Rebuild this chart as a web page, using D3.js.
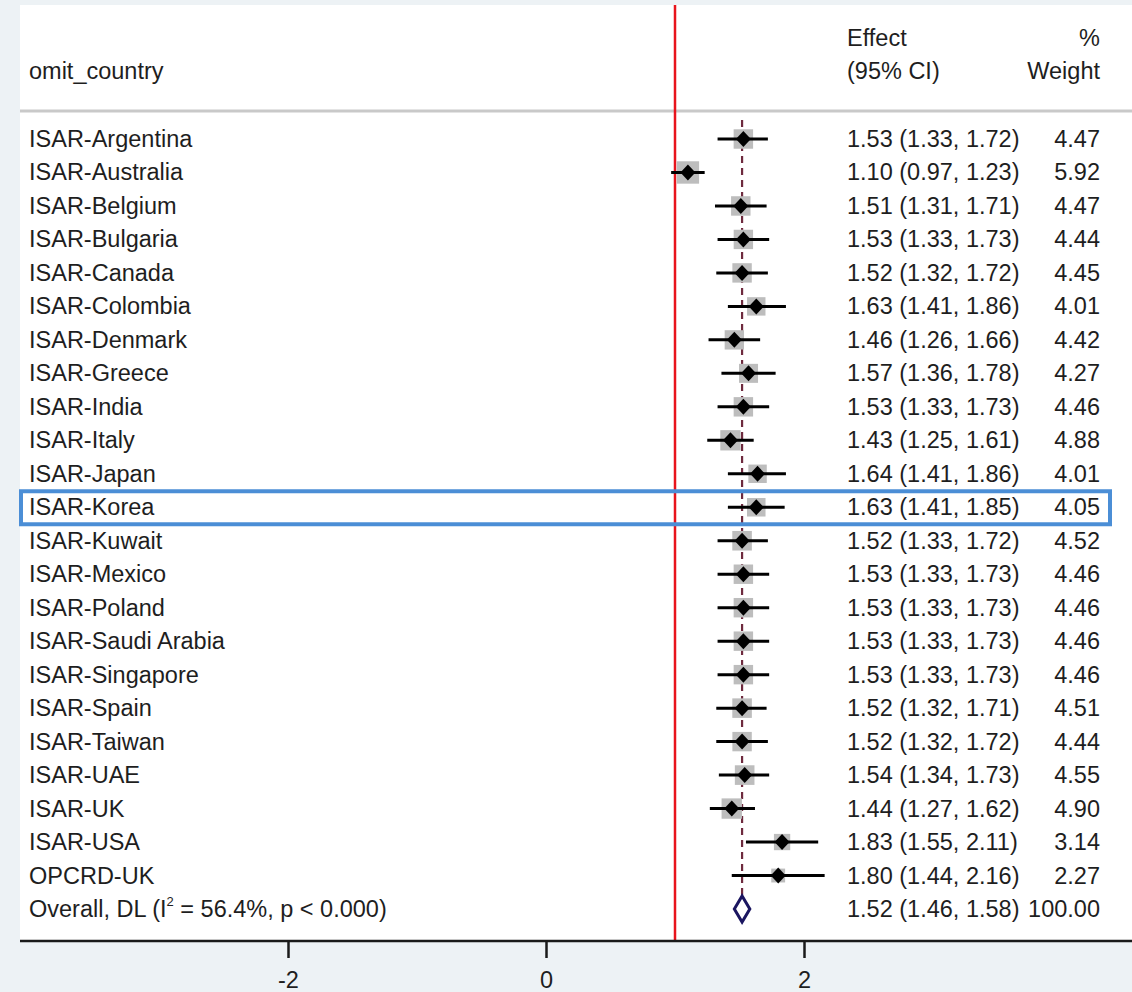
<!DOCTYPE html>
<html>
<head>
<meta charset="utf-8">
<script src="https://cdn.jsdelivr.net/npm/d3@7"></script>
<style>
  html, body { margin: 0; padding: 0; background: #edf2f5; }
  svg { display: block; }
  text { font-family: "Liberation Sans", Arial, sans-serif; fill: #1e1e1e; }
</style>
</head>
<body>
<svg id="chart" width="1132" height="992"></svg>
<script>
// Leave-one-out meta-analysis: pooled effect after omitting each country
const countries = [
  "ISAR-Argentina", "ISAR-Australia", "ISAR-Belgium", "ISAR-Bulgaria", "ISAR-Canada",
  "ISAR-Colombia", "ISAR-Denmark", "ISAR-Greece", "ISAR-India", "ISAR-Italy",
  "ISAR-Japan", "ISAR-Korea", "ISAR-Kuwait", "ISAR-Mexico", "ISAR-Poland",
  "ISAR-Saudi Arabia", "ISAR-Singapore", "ISAR-Spain", "ISAR-Taiwan", "ISAR-UAE",
  "ISAR-UK", "ISAR-USA", "OPCRD-UK"
];
const effects = [1.53, 1.10, 1.51, 1.53, 1.52, 1.63, 1.46, 1.57, 1.53, 1.43, 1.64, 1.63,
                 1.52, 1.53, 1.53, 1.53, 1.53, 1.52, 1.52, 1.54, 1.44, 1.83, 1.80];
const lowerCI = [1.33, 0.97, 1.31, 1.33, 1.32, 1.41, 1.26, 1.36, 1.33, 1.25, 1.41, 1.41,
                 1.33, 1.33, 1.33, 1.33, 1.33, 1.32, 1.32, 1.34, 1.27, 1.55, 1.44];
const upperCI = [1.72, 1.23, 1.71, 1.73, 1.72, 1.86, 1.66, 1.78, 1.73, 1.61, 1.86, 1.85,
                 1.72, 1.73, 1.73, 1.73, 1.73, 1.71, 1.72, 1.73, 1.62, 2.11, 2.16];
const weights = [4.47, 5.92, 4.47, 4.44, 4.45, 4.01, 4.42, 4.27, 4.46, 4.88, 4.01, 4.05,
                 4.52, 4.46, 4.46, 4.46, 4.46, 4.51, 4.44, 4.55, 4.90, 3.14, 2.27];
const overallEffect = 1.52, overallLower = 1.46, overallUpper = 1.58, overallWeight = 100.00;
const nullValue = 1;
const xTicks = [-2, 0, 2];
const highlighted = "ISAR-Korea";

const panel = { left: 20, top: 5, right: 1132, bottom: 941 };
const svg = d3.select("#chart");
const fmt = d3.format(".2f");
const FS = 23.5;

const x = d3.scaleLinear().domain([-2, 2]).range([288, 804]);
const y = d3.scaleLinear().domain([0, countries.length]).range([139, 909]);

// white plot panel
svg.append("rect")
  .attr("x", panel.left).attr("y", panel.top)
  .attr("width", panel.right - panel.left).attr("height", panel.bottom - panel.top)
  .attr("fill", "#ffffff");

// header
const colLabel = 29, colEffect = 847, colWeight = 1100;
svg.append("text").attr("x", colLabel).attr("y", 79).attr("font-size", FS).text("omit_country");
svg.append("text").attr("x", colEffect).attr("y", 46).attr("font-size", FS).text("Effect");
svg.append("text").attr("x", colEffect).attr("y", 79).attr("font-size", FS).text("(95% CI)");
svg.append("text").attr("x", colWeight).attr("y", 46).attr("font-size", FS).attr("text-anchor", "end").text("%");
svg.append("text").attr("x", colWeight).attr("y", 79).attr("font-size", FS).attr("text-anchor", "end").text("Weight");

// header separator
svg.append("line")
  .attr("x1", panel.left).attr("x2", panel.right).attr("y1", 111).attr("y2", 111)
  .attr("stroke", "#c9c9c9").attr("stroke-width", 3);

// null line
svg.append("line")
  .attr("x1", x(nullValue)).attr("x2", x(nullValue)).attr("y1", panel.top).attr("y2", panel.bottom)
  .attr("stroke", "#e8141c").attr("stroke-width", 2.5);

// overall effect reference line
svg.append("line")
  .attr("x1", x(overallEffect)).attr("x2", x(overallEffect))
  .attr("y1", y(0) - 19).attr("y2", y(countries.length) - 14)
  .attr("stroke", "#6e2a3e").attr("stroke-width", 2.2).attr("stroke-dasharray", "7,5");

const rows = countries.map((c, i) => ({
  name: c, est: effects[i], lo: lowerCI[i], hi: upperCI[i], w: weights[i], i
}));

const g = svg.append("g");
// weight boxes
g.selectAll("rect.box").data(rows).join("rect").attr("class", "box")
  .attr("x", d => x(d.est) - 4.6 * Math.sqrt(d.w))
  .attr("y", d => y(d.i) - 4.6 * Math.sqrt(d.w))
  .attr("width", d => 9.2 * Math.sqrt(d.w))
  .attr("height", d => 9.2 * Math.sqrt(d.w))
  .attr("fill", "#bdbdbd");
// confidence intervals
g.selectAll("line.ci").data(rows).join("line").attr("class", "ci")
  .attr("x1", d => x(d.lo)).attr("x2", d => x(d.hi))
  .attr("y1", d => y(d.i)).attr("y2", d => y(d.i))
  .attr("stroke", "#000").attr("stroke-width", 3);
// point estimates
g.selectAll("path.pt").data(rows).join("path").attr("class", "pt")
  .attr("d", d => {
    const cx = x(d.est), cy = y(d.i);
    return `M${cx - 7.5},${cy}L${cx},${cy - 8}L${cx + 7.5},${cy}L${cx},${cy + 8}Z`;
  })
  .attr("fill", "#000");

// row labels and values
g.selectAll("text.name").data(rows).join("text").attr("class", "name")
  .attr("x", colLabel).attr("y", d => y(d.i) + 8).attr("font-size", FS)
  .text(d => d.name);
g.selectAll("text.eff").data(rows).join("text").attr("class", "eff")
  .attr("x", colEffect).attr("y", d => y(d.i) + 8).attr("font-size", FS)
  .text(d => `${fmt(d.est)} (${fmt(d.lo)}, ${fmt(d.hi)})`);
g.selectAll("text.wt").data(rows).join("text").attr("class", "wt")
  .attr("x", colWeight).attr("y", d => y(d.i) + 8).attr("font-size", FS).attr("text-anchor", "end")
  .text(d => fmt(d.w));

// overall row
const oy = y(countries.length);
const ol = svg.append("text").attr("x", colLabel).attr("y", oy + 8).attr("font-size", FS);
ol.append("tspan").text("Overall, DL (I");
ol.append("tspan").attr("dy", -11).attr("font-size", 13).text("2");
ol.append("tspan").attr("dy", 11).text(" = 56.4%, p < 0.000)");
svg.append("path")
  .attr("d", `M${x(overallLower)},${oy}L${x(overallEffect)},${oy - 13}L${x(overallUpper)},${oy}L${x(overallEffect)},${oy + 13}Z`)
  .attr("fill", "none").attr("stroke", "#1b1660").attr("stroke-width", 3);
svg.append("text").attr("x", colEffect).attr("y", oy + 8).attr("font-size", FS)
  .text(`${fmt(overallEffect)} (${fmt(overallLower)}, ${fmt(overallUpper)})`);
svg.append("text").attr("x", colWeight).attr("y", oy + 8).attr("font-size", FS).attr("text-anchor", "end")
  .text(fmt(overallWeight));

// highlighted row frame
const hi = countries.indexOf(highlighted);
svg.append("rect")
  .attr("x", 21).attr("y", y(hi) - 16).attr("width", 1089).attr("height", 33)
  .attr("fill", "none").attr("stroke", "#4b8ed6").attr("stroke-width", 4);

// x axis
svg.append("line")
  .attr("x1", panel.left).attr("x2", panel.right).attr("y1", panel.bottom).attr("y2", panel.bottom)
  .attr("stroke", "#1a1a1a").attr("stroke-width", 2.5);
const axis = svg.append("g").attr("transform", `translate(0,${panel.bottom})`)
  .call(d3.axisBottom(x).tickValues(xTicks).tickSize(17).tickPadding(13).tickFormat(d => String(d)));
axis.select(".domain").remove();
axis.selectAll(".tick line").attr("stroke", "#1a1a1a").attr("stroke-width", 2.5);
axis.selectAll(".tick text").attr("font-size", FS).attr("fill", "#1e1e1e")
  .style("font-family", "'Liberation Sans', Arial, sans-serif");
</script>
</body>
</html>
